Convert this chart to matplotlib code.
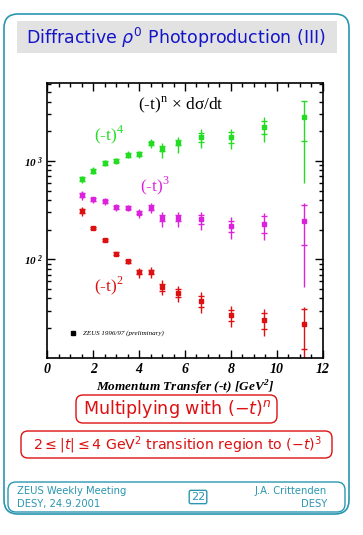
import matplotlib
matplotlib.use('Agg')
import matplotlib.pyplot as plt
from matplotlib.patches import FancyBboxPatch, Rectangle
from matplotlib.ticker import MultipleLocator, LogLocator, NullFormatter

# -t values [GeV^2]
t = [1.5, 2.0, 2.5, 3.0, 3.5, 4.0, 4.5, 5.0, 5.7, 6.7, 8.0, 9.45, 11.2]

# (-t)^4 x dsigma/dt
g_val = [651, 796, 954, 1000, 1159, 1170, 1514, 1334, 1536, 1742, 1742, 2218, 2823]
g_stat = [30, 35, 35, 35, 50, 50, 60, 83, 100, 180, 207, 356, 1235]
g_lo = [58, 65, 65, 65, 90, 95, 145, 270, 320, 396, 408, 669, 2230]
g_hi = [52, 65, 65, 65, 90, 95, 145, 180, 230, 359, 389, 605, 1255]

# (-t)^3 x dsigma/dt
m_val = [451, 408, 389, 338, 333, 298, 335, 261, 261, 255, 217, 230, 247]
m_stat = [20, 15, 14, 12, 12, 12, 19, 18, 18, 24, 27, 44, 107]
m_lo = [50, 37, 30, 25, 25, 33, 41, 47, 47, 57, 55, 72, 195]
m_hi = [43, 25, 30, 25, 25, 29, 41, 44, 45, 50, 53, 65, 124]

# (-t)^2 x dsigma/dt
r_val = [310, 207, 157, 114, 95.4, 74.3, 74.3, 51.9, 45.7, 37.4, 26.9, 23.9, 21.8]
r_stat = [15, 6, 5, 4, 3.5, 3.5, 4, 4.5, 4.2, 4.6, 3.4, 4.4, 9.4]
r_lo = [34, 10, 8, 6, 6, 9.9, 9.9, 8.6, 8.8, 8.8, 6.5, 7.3, 15]
r_hi = [28, 10, 8, 6, 6, 7.8, 8.5, 9.5, 7.6, 9.5, 6.5, 7.1, 11.1]

W, H = 363, 535
green = '#22dd22'
magenta = '#dd22dd'
red = '#dd1111'
teal = '#2a96b0'
blue = '#1414c8'

fig = plt.figure(figsize=(W / 100, H / 100), dpi=100)

# page decoration, drawn in pixel units
bg = fig.add_axes([0, 0, 1, 1])
bg.set_xlim(0, W)
bg.set_ylim(H, 0)
bg.axis('off')

bg.add_patch(FancyBboxPatch((4, 14), 345, 500, boxstyle='round,pad=0,rounding_size=14',
                            fc='none', ec=teal, lw=1.2))
bg.add_patch(Rectangle((17, 21), 320, 32, fc='#e2e2e2', ec='none'))
bg.text(176, 38, r'Diffractive $\rho^{\mathrm{0}}$ Photoproduction (III)', color=blue,
        fontsize=12.5, ha='center', va='center', family='DejaVu Sans')

bg.add_patch(FancyBboxPatch((76, 395), 201, 28, boxstyle='round,pad=0,rounding_size=7',
                            fc='none', ec=red, lw=1.0))
bg.text(177, 409, r'Multiplying with $(-t)^n$', color=red, fontsize=12.6,
        ha='center', va='center')
bg.add_patch(FancyBboxPatch((21, 431), 311, 27, boxstyle='round,pad=0,rounding_size=7',
                            fc='none', ec=red, lw=1.0))
bg.text(177, 445, r'$2 \leq |t| \leq 4$ GeV$^2$ transition region to $(-t)^3$', color=red,
        fontsize=10.2, ha='center', va='center')

bg.add_patch(FancyBboxPatch((8, 482), 337, 30, boxstyle='round,pad=0,rounding_size=8',
                            fc='none', ec=teal, lw=1.0))
bg.text(17, 491, 'ZEUS Weekly Meeting', color=teal, fontsize=7.2, va='center')
bg.text(17, 504, 'DESY, 24.9.2001', color=teal, fontsize=7.2, va='center')
bg.text(327, 491, 'J.A. Crittenden', color=teal, fontsize=7.2, va='center', ha='right')
bg.text(327, 504, 'DESY', color=teal, fontsize=7.2, va='center', ha='right')
bg.text(198, 497, '22', color=teal, fontsize=8, va='center', ha='center',
        bbox=dict(boxstyle='round,pad=0.15', fc='none', ec=teal, lw=1.0))

# the plot itself
ax = fig.add_axes([47.3 / W, 1 - 357.7 / H, 275.4 / W, 274.7 / H])
ax.set_facecolor('none')
ax.set_yscale('log')
ax.set_xlim(0, 12)
ax.set_ylim(10, 6200)

for val, stat, lo, hi, col in [(g_val, g_stat, g_lo, g_hi, green),
                               (m_val, m_stat, m_lo, m_hi, magenta),
                               (r_val, r_stat, r_lo, r_hi, red)]:
    ax.errorbar(t, val, yerr=[lo, hi], fmt='s', ms=3, color=col, ecolor=col,
                elinewidth=1.0, capsize=0)
    ax.plot(t, [v + s for v, s in zip(val, stat)], '_', color=col, ms=4.5, mew=1.0)
    ax.plot(t, [v - s for v, s in zip(val, stat)], '_', color=col, ms=4.5, mew=1.0)

serif = 'Liberation Serif'
ax.text(3.96, 3382, '(-t)$^{\\mathregular{n}}$ \u00d7 d\u03c3/dt', fontsize=12.5,
        family=serif, color='black')
ax.text(2.03, 1635, r'(-t)$^{\mathregular{4}}$', fontsize=12.5, family=serif, color=green)
ax.text(4.04, 495, r'(-t)$^{\mathregular{3}}$', fontsize=12.5, family=serif, color=magenta)
ax.text(2.03, 47.6, r'(-t)$^{\mathregular{2}}$', fontsize=12.5, family=serif, color=red)

ax.plot([1.13], [17.9], 's', color='black', ms=3)
ax.text(1.57, 17.9, 'ZEUS 1996/97 (preliminary)', fontsize=5, family=serif,
        style='italic', va='center')

ax.xaxis.set_major_locator(MultipleLocator(2))
ax.xaxis.set_minor_locator(MultipleLocator(0.5))
ax.set_yticks([100, 1000])
ax.set_yticklabels([r'$\mathregular{10^{\ 2}}$', r'$\mathregular{10^{\ 3}}$'])
ax.yaxis.set_minor_locator(LogLocator(base=10, subs=range(2, 10)))
ax.yaxis.set_minor_formatter(NullFormatter())

ax.tick_params(which='both', direction='in', top=True, right=True, width=1.0)
ax.tick_params(which='major', length=6)
ax.tick_params(which='minor', length=3)
ax.tick_params(axis='x', labelsize=10, pad=4)
ax.tick_params(axis='y', labelsize=8, pad=3)
for lab in ax.get_xticklabels() + ax.get_yticklabels():
    lab.set_family(serif)
    lab.set_weight('bold')
    lab.set_style('italic')
for sp in ax.spines.values():
    sp.set_linewidth(1.2)

ax.set_xlabel(r'Momentum Transfer (-t) [GeV$^{\mathregular{2}}$]', fontsize=9.5,
              family=serif, weight='bold', style='italic', labelpad=2)

fig.savefig('out.png', dpi=100)
